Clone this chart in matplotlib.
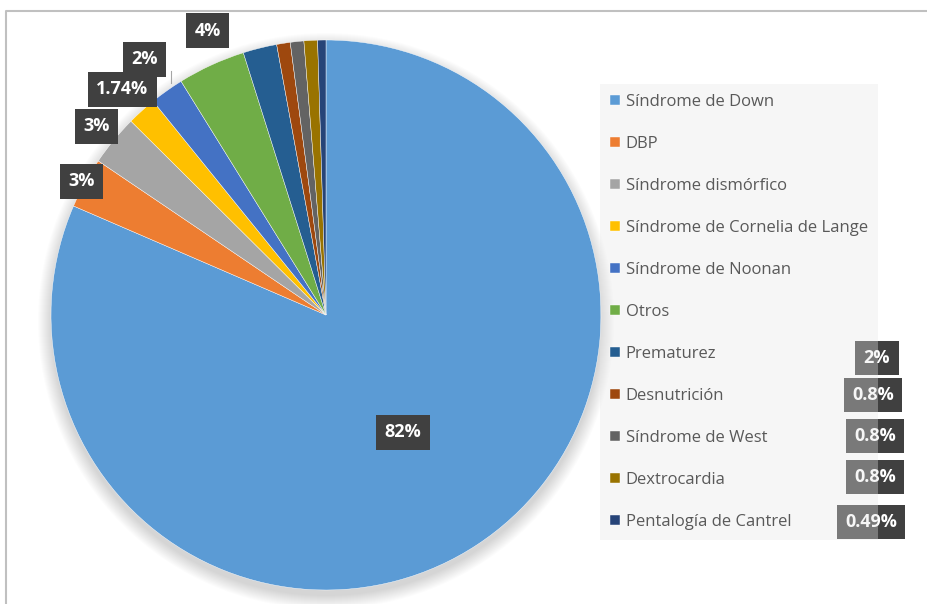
import numpy as np
import matplotlib.pyplot as plt
from matplotlib.patches import Circle

plt.rcParams['font.family'] = ['Open Sans', 'DejaVu Sans']

names = ['Síndrome de Down', 'DBP', 'Síndrome dismórfico', 'Síndrome de Cornelia de Lange',
         'Síndrome de Noonan', 'Otros', 'Prematurez', 'Desnutrición', 'Síndrome de West',
         'Dextrocardia', 'Pentalogía de Cantrel']
values = [82, 3, 3, 1.74, 2, 4, 2, 0.8, 0.8, 0.8, 0.49]
labels = ['82%', '3%', '3%', '1.74%', '2%', '4%', '2%', '0.8%', '0.8%', '0.8%', '0.49%']
colors = ['#5B9BD5', '#ED7D31', '#A5A5A5', '#FFC000', '#4472C4', '#70AD47',
          '#255E91', '#9E480E', '#636363', '#997300', '#264478']

W, H = 928, 604
cx, cy, R = 326, H - 315, 275

fig = plt.figure(figsize=(W / 100, H / 100), dpi=100)
ax = fig.add_axes([0, 0, 1, 1])

# soft shadow under the pie
for k in range(14):
    ax.add_patch(Circle((cx, cy - 6), R + k, color='black', alpha=0.012, lw=0, zorder=0))

wedges, _ = ax.pie(values, colors=colors, startangle=90, counterclock=False,
                   center=(cx, cy), radius=R,
                   wedgeprops=dict(edgecolor='white', linewidth=0.3))

ax.set_xlim(0, W)
ax.set_ylim(0, H)
ax.set_aspect('auto')
ax.axis('off')

box = dict(boxstyle='square,pad=0.47', fc='#404040', ec='none')
txt = dict(color='white', fontsize=13, fontweight='bold', ha='center', va='center', bbox=box, zorder=3)

# big slice label inside
w = wedges[0]
mid = np.deg2rad((w.theta1 + w.theta2) / 2)
ax.text(cx + 0.51 * R * np.cos(mid), cy + 0.51 * R * np.sin(mid), labels[0], **txt)

# outside labels on the left, along each slice's middle angle
dist = [1.013, 1.08, 1.105, 1.14, 1.12]
for i, f in zip(range(1, 6), dist):
    w = wedges[i]
    mid = np.deg2rad((w.theta1 + w.theta2) / 2) - (np.deg2rad(2) if i == 5 else 0)
    ax.text(cx + f * R * np.cos(mid), cy + f * R * np.sin(mid), labels[i], **txt)

# leader line for Síndrome de Noonan
w = wedges[4]
mid = np.deg2rad((w.theta1 + w.theta2) / 2)
ex, ey = cx + R * np.cos(mid), cy + R * np.sin(mid)
ax.plot([ex + 4, ex + 4], [ey + 8, H - 71], color='#a6a6a6', lw=0.8, zorder=2)

# labels of the smallest slices, stacked near the legend
right_xy = [(877, 358), (873, 395), (875, 436), (875, 477), (871, 522)]
for i, (x, y) in zip(range(6, 11), right_xy):
    ax.text(x, H - y, labels[i], **txt)

leg = ax.legend(wedges, names, loc='upper left', bbox_to_anchor=(600 / W, 1 - 84 / H),
                bbox_transform=fig.transFigure, frameon=True, fontsize=12,
                handlelength=0.6, handleheight=0.6, handletextpad=0.35,
                labelspacing=1.56, borderpad=0.6, borderaxespad=0)
leg.get_frame().set_facecolor('#e6e6e6')
leg.get_frame().set_alpha(0.35)
leg.get_frame().set_edgecolor('none')
leg.get_frame().set_boxstyle('square', pad=0)
leg.set_zorder(5)
for t in leg.get_texts():
    t.set_color('#595959')

# chart frame
ax.plot([6, 6, W], [0, H - 11, H - 11], color='#c0c0c0', lw=1.5, zorder=6)

fig.savefig('out.png', dpi=100)
